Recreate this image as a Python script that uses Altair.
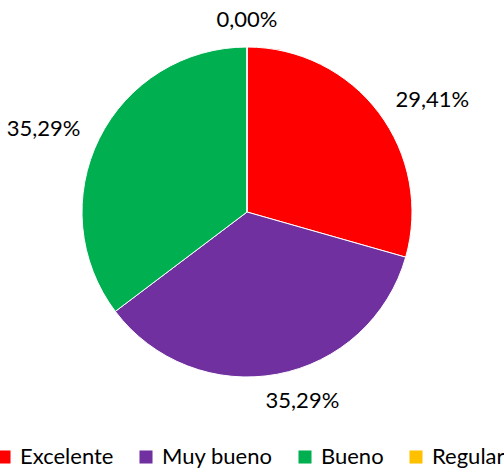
import altair as alt
import pandas as pd

categories = ["Excelente", "Muy bueno", "Bueno", "Regular"]
values = [29.41, 35.29, 35.29, 0.0]
labels = ["29,41%", "35,29%", "35,29%", "0,00%"]
colors = ["#FF0000", "#7030A0", "#00B050", "#FFC000"]

df = pd.DataFrame({
    "cat": categories,
    "val": values,
    "label": labels,
    "order": list(range(len(categories))),
})

color = alt.Color(
    "cat:N",
    scale=alt.Scale(domain=categories, range=colors),
    sort=categories,
    legend=alt.Legend(
        title=None, orient="none", direction="horizontal",
        legendX=-7, legendY=446, symbolType="square", symbolSize=170,
        symbolStrokeWidth=0, labelFont="Lato", labelFontSize=22,
        labelColor="#000000", columnPadding=21, labelOffset=5,
    ),
)

base = alt.Chart(df).encode(
    theta=alt.Theta("val:Q", stack=True),
    order=alt.Order("order:Q"),
)

pie = base.mark_arc(outerRadius=165, stroke="white", strokeWidth=1).encode(color=color)

def label_layer(cat, **kw):
    return base.mark_text(
        font="Lato", fontSize=22, color="#000000", **kw
    ).encode(text=alt.condition(alt.datum.cat == cat, alt.Text("label:N"), alt.value("")))

t1 = label_layer("Excelente", radius=186, align="left", baseline="middle")
t2 = label_layer("Muy bueno", radius=182, align="center", baseline="top", dx=22)
t3 = label_layer("Bueno", radius=186, align="right", baseline="middle")
t4 = label_layer("Regular", radius=180, align="center", baseline="bottom")

chart = alt.layer(pie, t1, t2, t3, t4).properties(
    width=494, height=424,
    autosize=alt.AutoSizeParams(type="none"),
    padding={"left": 0, "top": 0, "right": 10, "bottom": 44},
).configure_view(stroke=None)

chart.save("out.html", embed_options={"renderer": "svg", "actions": False})
